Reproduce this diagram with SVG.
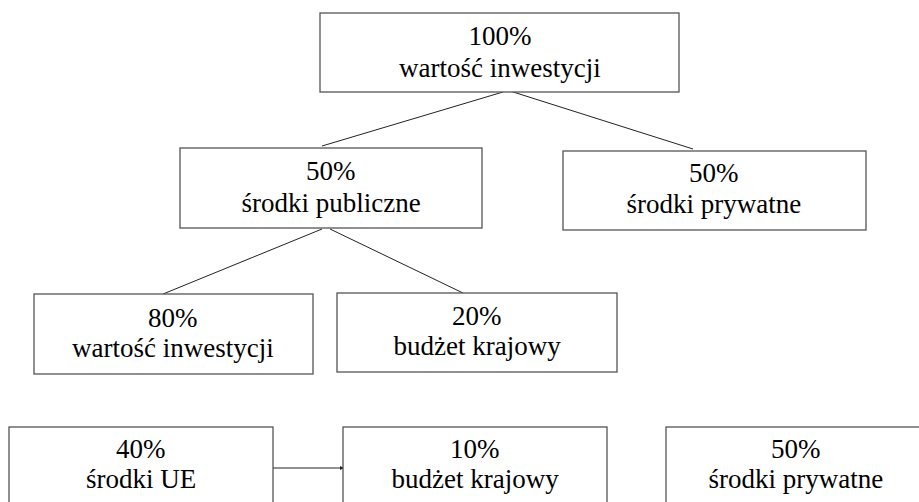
<svg xmlns="http://www.w3.org/2000/svg" width="919" height="502" viewBox="0 0 919 502">
<defs>
<marker id="ah" markerWidth="4" markerHeight="4" refX="4" refY="2" orient="auto" markerUnits="userSpaceOnUse">
<path d="M0,0 L4,2 L0,4 Z" fill="#222"/>
</marker>
</defs>
<rect width="919" height="502" fill="#fff"/>
<g id="connectors" stroke="#222" stroke-width="1" fill="none">
<line x1="503" y1="92" x2="322" y2="146"/>
<line x1="510" y1="91" x2="693" y2="149"/>
<line x1="322" y1="229" x2="163" y2="294"/>
<line x1="330" y1="229" x2="463" y2="293"/>
<line x1="273" y1="468" x2="344" y2="468" marker-end="url(#ah)"/>
</g>
<g id="n_top">
<rect x="320" y="13" width="359" height="79" fill="#fff" stroke="#555" stroke-width="1.3"/>
<text x="468.5" y="45" font-family="Liberation Serif" font-size="27">100%</text>
<text x="399" y="77" font-family="Liberation Serif" font-size="27">wartość inwestycji</text>
</g>
<g id="n_public">
<rect x="180" y="148" width="302" height="80" fill="#fff" stroke="#555" stroke-width="1.3"/>
<text x="306" y="180" font-family="Liberation Serif" font-size="27">50%</text>
<text x="241.5" y="212" font-family="Liberation Serif" font-size="27">środki publiczne</text>
</g>
<g id="n_private">
<rect x="563" y="151" width="303" height="79" fill="#fff" stroke="#555" stroke-width="1.3"/>
<text x="689" y="182" font-family="Liberation Serif" font-size="27">50%</text>
<text x="626.5" y="213" font-family="Liberation Serif" font-size="27">środki prywatne</text>
</g>
<g id="n_80">
<rect x="34" y="294" width="279" height="80" fill="#fff" stroke="#555" stroke-width="1.3"/>
<text x="148" y="327" font-family="Liberation Serif" font-size="27">80%</text>
<text x="72" y="357" font-family="Liberation Serif" font-size="27">wartość inwestycji</text>
</g>
<g id="n_20">
<rect x="337" y="293" width="280" height="79" fill="#fff" stroke="#555" stroke-width="1.3"/>
<text x="452" y="325" font-family="Liberation Serif" font-size="27">20%</text>
<text x="393.5" y="355" font-family="Liberation Serif" font-size="27">budżet krajowy</text>
</g>
<g id="n_ue">
<rect x="9" y="427" width="264" height="90" fill="#fff" stroke="#555" stroke-width="1.3"/>
<text x="116" y="458" font-family="Liberation Serif" font-size="27">40%</text>
<text x="86" y="488" font-family="Liberation Serif" font-size="27">środki UE</text>
</g>
<g id="n_10">
<rect x="343" y="427" width="264" height="90" fill="#fff" stroke="#555" stroke-width="1.3"/>
<text x="450" y="458" font-family="Liberation Serif" font-size="27">10%</text>
<text x="391.5" y="488" font-family="Liberation Serif" font-size="27">budżet krajowy</text>
</g>
<g id="n_private2">
<rect x="666" y="427" width="262" height="90" fill="#fff" stroke="#555" stroke-width="1.3"/>
<text x="771" y="458" font-family="Liberation Serif" font-size="27">50%</text>
<text x="708.5" y="488" font-family="Liberation Serif" font-size="27">środki prywatne</text>
</g>
</svg>
